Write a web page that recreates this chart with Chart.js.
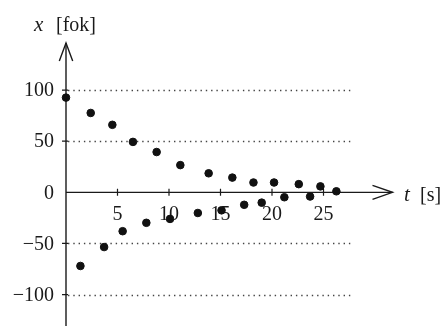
<!DOCTYPE html>
<html>
<head>
<meta charset="utf-8">
<script src="https://cdn.jsdelivr.net/npm/chart.js"></script>
<style>
  body { margin: 0; background: #fff; }
  #wrap { width: 444px; height: 326px; }
</style>
</head>
<body>
<div id="wrap"><canvas id="myChart"></canvas></div>
<script>
// time [s] and angle [fok] of the measured points
var tVals = [0, 1.4, 2.4, 3.7, 4.5, 5.5, 6.5, 7.8, 8.8, 10.1, 11.1, 12.8, 13.85, 15.1, 16.15, 17.3, 18.2, 19.0, 20.2, 21.2, 22.6, 23.7, 24.7, 26.25]
var xVals = [92.6, -72, 77.6, -53.5, 66, -38, 49.3, -29.8, 39.4, -26, 26.6, -20.2, 18.6, -17.6, 14.4, -12.2, 9.6, -10.1, 9.6, -4.8, 8, -4.1, 5.8, 1]

var xTicks = [5, 10, 15, 20, 25]
var yTicks = [100, 50, 0, -50, -100]
var gridVals = [100, 50, -50, -100]

var serif = '"Liberation Serif", "DejaVu Serif", serif'

var points = []
for (var i = 0; i < tVals.length; i++) {
  points.push({x: tVals[i], y: xVals[i]})
}

// axes, arrows, dotted grid and tick labels
var axesPlugin = {
  id: 'axes',
  beforeDatasetsDraw: function(chart){
    var ctx = chart.ctx
    var sx = chart.scales.x
    var sy = chart.scales.y
    var x0 = sx.getPixelForValue(0)
    var y0 = sy.getPixelForValue(0)

    ctx.save()

    // dotted grid
    ctx.strokeStyle = '#444'
    ctx.lineWidth = 1.4
    ctx.setLineDash([1.4, 3.9])
    gridVals.forEach(function(v){
      var y = Math.round(sy.getPixelForValue(v)) + 0.5
      ctx.beginPath()
      ctx.moveTo(x0 + 2, y)
      ctx.lineTo(sx.getPixelForValue(27.6), y)
      ctx.stroke()
    })
    ctx.setLineDash([])

    // axis lines
    ctx.strokeStyle = '#1a1a1a'
    ctx.lineWidth = 1.4
    var xEnd = sx.getPixelForValue(31.7)
    var yEnd = sy.getPixelForValue(146)
    ctx.beginPath()
    ctx.moveTo(x0, chart.height)
    ctx.lineTo(x0, yEnd)
    ctx.moveTo(x0, y0)
    ctx.lineTo(xEnd, y0)
    ctx.stroke()

    // arrow heads
    ctx.beginPath()
    ctx.moveTo(x0 - 6.7, yEnd + 18)
    ctx.lineTo(x0, yEnd)
    ctx.lineTo(x0 + 6.7, yEnd + 18)
    ctx.moveTo(xEnd - 20, y0 - 7)
    ctx.lineTo(xEnd, y0)
    ctx.lineTo(xEnd - 20, y0 + 7)
    ctx.stroke()

    // ticks
    ctx.lineWidth = 1.2
    ctx.beginPath()
    xTicks.forEach(function(v){
      var x = sx.getPixelForValue(v)
      ctx.moveTo(x, y0 - 3.5)
      ctx.lineTo(x, y0 + 3.5)
    })
    yTicks.forEach(function(v){
      if (v == 0) return
      var y = sy.getPixelForValue(v)
      ctx.moveTo(x0 - 4, y)
      ctx.lineTo(x0 + 2, y)
    })
    ctx.stroke()

    // tick labels
    ctx.fillStyle = '#1a1a1a'
    ctx.font = '20px ' + serif
    ctx.textAlign = 'center'
    ctx.textBaseline = 'middle'
    xTicks.forEach(function(v){
      ctx.fillText(String(v), sx.getPixelForValue(v), y0 + 22)
    })
    ctx.textAlign = 'right'
    yTicks.forEach(function(v){
      var s = v < 0 ? '\u2212' + Math.abs(v) : String(v)
      ctx.fillText(s, x0 - 12, sy.getPixelForValue(v) + 1)
    })

    // axis titles
    ctx.textAlign = 'left'
    ctx.textBaseline = 'alphabetic'
    ctx.font = 'italic 21px ' + serif
    ctx.fillText('x', 34, 31)
    ctx.fillText('t', 404, 201)
    ctx.font = '20px ' + serif
    ctx.fillText('[fok]', 56, 31)
    ctx.fillText('[s]', 420, 201)

    ctx.restore()
  }
}

var myChart = document.getElementById('myChart').getContext('2d')

var chart = new Chart(myChart, {
  type: 'scatter',
  data: {
    datasets: [
      {
        label: 'x',
        data: points,
        backgroundColor: '#111',
        borderColor: '#111',
        pointRadius: 3.8,
        pointHoverRadius: 3.8,
        clip: false
      }
    ]
  },
  options: {
    responsive: true,
    maintainAspectRatio: false,
    animation: false,
    layout: { padding: { left: 66, right: 48.4, top: 43, bottom: 0 } },
    scales: {
      x: { type: 'linear', min: 0, max: 32, display: false },
      y: { type: 'linear', min: -126, max: 146, display: false }
    },
    plugins: {
      legend: { display: false },
      tooltip: { enabled: false }
    }
  },
  plugins: [axesPlugin]
})
</script>
</body>
</html>
